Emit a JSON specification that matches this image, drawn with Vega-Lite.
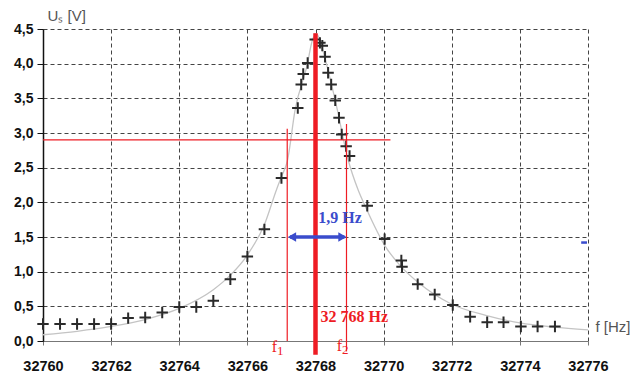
{
  "$schema": "https://vega.github.io/schema/vega-lite/v6.json",
  "width": 545,
  "height": 312,
  "autosize": {"type": "none"},
  "padding": {"left": 43, "top": 29, "right": 48, "bottom": 42},
  "background": "white",
  "config": {"view": {"stroke": null}},
  "encoding": {
    "x": {
      "field": "f", "type": "quantitative",
      "scale": {"domain": [32760, 32776], "nice": false, "zero": false},
      "axis": {
        "values": [32760, 32762, 32764, 32766, 32768, 32770, 32772, 32774, 32776],
        "format": "d",
        "labelFlush": false, "labelOverlap": false,
        "grid": true, "gridDash": [4, 3], "gridColor": "#444", "gridWidth": 1,
        "domainColor": "#777", "domainWidth": 1.2,
        "tickColor": "#777", "tickSize": 4,
        "labelFont": "Liberation Sans", "labelFontSize": 14.5, "labelFontWeight": "bold", "labelColor": "#111",
        "labelPadding": 14,
        "title": "f [Hz]", "titleFont": "Liberation Sans", "titleFontSize": 15, "titleFontWeight": "normal",
        "titleColor": "#555", "titleAlign": "left", "titleBaseline": "middle", "titleX": 552, "titleY": -14.5, "titleAngle": 0
      }
    },
    "y": {
      "field": "U", "type": "quantitative",
      "scale": {"domain": [0, 4.5], "nice": false, "zero": false},
      "axis": {
        "values": [0, 0.5, 1, 1.5, 2, 2.5, 3, 3.5, 4, 4.5],
        "labelExpr": "replace(format(datum.value, '.1f'), '.', ',')",
        "labelFlush": false, "labelOverlap": false,
        "grid": true, "gridDash": [4, 3], "gridColor": "#444", "gridWidth": 1,
        "domainColor": "#111", "domainWidth": 1.5,
        "tickColor": "#111", "tickSize": 6,
        "labelFont": "Liberation Sans", "labelFontSize": 14, "labelFontWeight": "bold", "labelColor": "#111",
        "labelPadding": 4,
        "title": "Uₛ [V]", "titleFont": "Liberation Sans", "titleFontSize": 15, "titleFontWeight": "normal",
        "titleColor": "#555", "titleAlign": "left", "titleBaseline": "middle", "titleX": 4, "titleY": -14, "titleAngle": 0
      }
    }
  },
  "layer": [
    {
      "data": {"values": [
        {"f": 32760, "U": 0.09}, {"f": 32761, "U": 0.14}, {"f": 32762, "U": 0.21}, {"f": 32763, "U": 0.31},
        {"f": 32764, "U": 0.47}, {"f": 32765, "U": 0.74}, {"f": 32765.5, "U": 0.95}, {"f": 32766, "U": 1.24},
        {"f": 32766.5, "U": 1.68}, {"f": 32766.86, "U": 2.19}, {"f": 32767.0, "U": 2.37}, {"f": 32767.18, "U": 2.61},
        {"f": 32767.4, "U": 3.33}, {"f": 32767.74, "U": 3.95}, {"f": 32767.94, "U": 4.38}, {"f": 32768.05, "U": 4.42},
        {"f": 32768.15, "U": 4.3}, {"f": 32768.32, "U": 4.0}, {"f": 32768.62, "U": 3.38}, {"f": 32768.96, "U": 2.61},
        {"f": 32769.25, "U": 2.18}, {"f": 32769.5, "U": 1.9}, {"f": 32770.03, "U": 1.38}, {"f": 32770.5, "U": 1.08},
        {"f": 32771, "U": 0.85}, {"f": 32772, "U": 0.53}, {"f": 32773, "U": 0.37}, {"f": 32774, "U": 0.26},
        {"f": 32775, "U": 0.2}, {"f": 32776, "U": 0.16}
      ]},
      "mark": {"type": "line", "color": "#c4c4c4", "strokeWidth": 1.3, "interpolate": "monotone"}
    },
    {
      "data": {"values": [
        {"f": 32760, "U": 0.245}, {"f": 32760.5, "U": 0.245}, {"f": 32761, "U": 0.245}, {"f": 32761.5, "U": 0.245},
        {"f": 32762, "U": 0.245}, {"f": 32762.5, "U": 0.33}, {"f": 32763, "U": 0.34}, {"f": 32763.5, "U": 0.41},
        {"f": 32764, "U": 0.49}, {"f": 32764.5, "U": 0.49}, {"f": 32765, "U": 0.58}, {"f": 32765.5, "U": 0.89},
        {"f": 32766, "U": 1.22}, {"f": 32766.5, "U": 1.61}, {"f": 32767, "U": 2.35},
        {"f": 32767.48, "U": 3.36}, {"f": 32767.58, "U": 3.7}, {"f": 32767.64, "U": 3.85}, {"f": 32767.77, "U": 4.01},
        {"f": 32767.99, "U": 4.35}, {"f": 32768.13, "U": 4.3}, {"f": 32768.2, "U": 4.26}, {"f": 32768.28, "U": 4.1},
        {"f": 32768.37, "U": 3.87}, {"f": 32768.46, "U": 3.7}, {"f": 32768.58, "U": 3.47}, {"f": 32768.69, "U": 3.22},
        {"f": 32768.77, "U": 2.98}, {"f": 32768.9, "U": 2.81}, {"f": 32769.0, "U": 2.67},
        {"f": 32769.52, "U": 1.95}, {"f": 32770.03, "U": 1.47}, {"f": 32770.52, "U": 1.16}, {"f": 32770.54, "U": 1.07},
        {"f": 32771.0, "U": 0.82}, {"f": 32771.5, "U": 0.67}, {"f": 32772.03, "U": 0.52}, {"f": 32772.54, "U": 0.35},
        {"f": 32773.04, "U": 0.27}, {"f": 32773.52, "U": 0.27}, {"f": 32774.03, "U": 0.21}, {"f": 32774.52, "U": 0.21},
        {"f": 32775.03, "U": 0.21}
      ]},
      "mark": {"type": "point", "shape": "M-1,0L1,0M0,-1L0,1", "filled": false, "stroke": "#2a2a2a", "strokeWidth": 2, "size": 130, "opacity": 1}
    },
    {
      "data": {"values": [
        {"f": 32767.17, "f2": 32767.17, "U": 0, "U2": 3.06},
        {"f": 32768.91, "f2": 32768.91, "U": -0.15, "U2": 3.13},
        {"f": 32760, "f2": 32770.2, "U": 2.9, "U2": 2.9}
      ]},
      "mark": {"type": "rule", "color": "#ee1c24", "strokeWidth": 1.2},
      "encoding": {"x2": {"field": "f2"}, "y2": {"field": "U2"}}
    },
    {
      "data": {"values": [{"f": 32768.0, "f2": 32768.0, "U": -0.2, "U2": 4.44}]},
      "mark": {"type": "rule", "color": "#ee1c24", "strokeWidth": 4.5},
      "encoding": {"x2": {"field": "f2"}, "y2": {"field": "U2"}}
    },
    {
      "data": {"values": [{"f": 32767.25, "f2": 32768.85, "U": 1.5, "U2": 1.5}]},
      "mark": {"type": "rule", "color": "#3a4ccc", "strokeWidth": 3.5},
      "encoding": {"x2": {"field": "f2"}, "y2": {"field": "U2"}}
    },
    {
      "data": {"values": [{"f": 32767.31, "U": 1.5, "dir": "left"}]},
      "mark": {"type": "point", "shape": "triangle-left", "filled": true, "color": "#3a4ccc", "size": 90, "opacity": 1}
    },
    {
      "data": {"values": [{"f": 32768.79, "U": 1.5, "dir": "right"}]},
      "mark": {"type": "point", "shape": "triangle-right", "filled": true, "color": "#3a4ccc", "size": 90, "opacity": 1}
    },
    {
      "data": {"values": [{"f": 32775.8, "f2": 32775.97, "U": 1.42, "U2": 1.42}]},
      "mark": {"type": "rule", "color": "#3a4ccc", "strokeWidth": 2.5},
      "encoding": {"x2": {"field": "f2"}, "y2": {"field": "U2"}}
    },
    {
      "data": {"values": [{"f": 32768.08, "U": 1.77, "label": "1,9 Hz"}]},
      "mark": {"type": "text", "align": "left", "baseline": "middle", "font": "Liberation Serif", "fontSize": 16, "fontWeight": "bold", "color": "#3a4ccc"},
      "encoding": {"text": {"field": "label"}}
    },
    {
      "data": {"values": [{"f": 32768.15, "U": 0.35, "label": "32 768 Hz"}]},
      "mark": {"type": "text", "align": "left", "baseline": "middle", "font": "Liberation Serif", "fontSize": 16, "fontWeight": "bold", "color": "#ee1c24"},
      "encoding": {"text": {"field": "label"}}
    },
    {
      "data": {"values": [{"f": 32766.87, "U": -0.08, "label": "f"}, {"f": 32768.78, "U": -0.07, "label": "f"}]},
      "mark": {"type": "text", "align": "right", "baseline": "middle", "font": "Liberation Serif", "fontSize": 16, "color": "#ee1c24"},
      "encoding": {"text": {"field": "label"}}
    },
    {
      "data": {"values": [{"f": 32766.87, "U": -0.08, "label": "1"}, {"f": 32768.78, "U": -0.07, "label": "2"}]},
      "mark": {"type": "text", "align": "left", "baseline": "middle", "dx": 0, "dy": 4, "font": "Liberation Serif", "fontSize": 13, "color": "#ee1c24"},
      "encoding": {"text": {"field": "label"}}
    }
  ]
}
